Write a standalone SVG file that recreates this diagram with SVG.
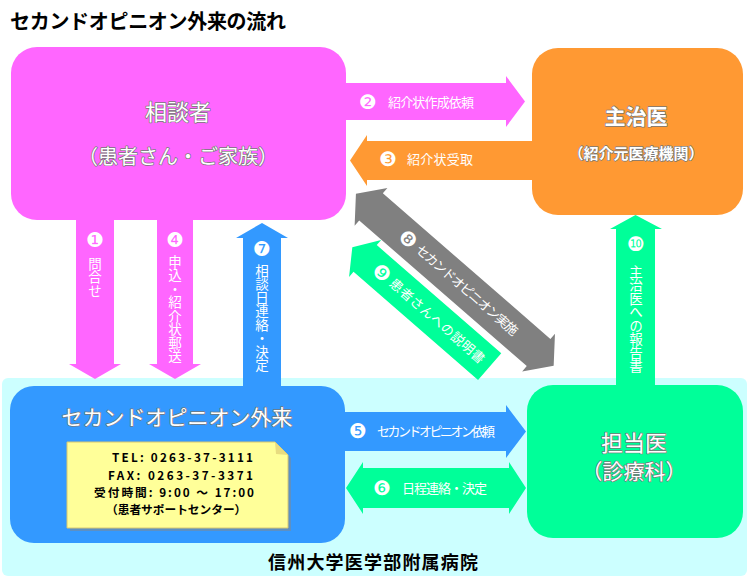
<svg xmlns="http://www.w3.org/2000/svg" width="749" height="579" viewBox="0 0 749 579">
<style>
.jp{font-family:"Noto Sans CJK JP","Noto Sans",sans-serif}
.num{font-family:"DejaVu Sans",sans-serif;fill:#fff;font-size:20px;text-anchor:middle}
.lbl{font-family:"Noto Sans CJK JP",sans-serif;fill:#fff;font-size:13px}
.vlbl{font-family:"Noto Sans CJK JP",sans-serif;fill:#fff;font-size:13.5px;writing-mode:vertical-rl}
.box{font-family:"Noto Sans CJK JP",sans-serif;fill:#fff;text-anchor:middle;stroke:#777;stroke-width:1.4px;paint-order:stroke;stroke-linejoin:round}
.note{font-family:"Noto Sans CJK JP",sans-serif;font-weight:bold;fill:#000;font-size:11.7px}
</style>
<text class="jp" x="10" y="29" font-size="20" font-weight="bold" fill="#000" textLength="276">セカンドオピニオン外来の流れ</text>
<rect id="hospital" x="2" y="378" width="745" height="198" rx="6" fill="#CCFFFF"/>
<g id="connectors">
  <path d="M340,83 H506 V76 L525,101.5 L506,127 V120 H340 Z" fill="#FF66FF"/>
  <path d="M537,141 H367 V135 L350,160.5 L367,186 V180 H537 Z" fill="#FF9933"/>
  <path d="M76,215 V364 H69 L95,379 L121,364 H114 V215 Z" fill="#FF66FF"/>
  <path d="M157,215 V364 H149 L175,379 L201,364 H193 V215 Z" fill="#FF66FF"/>
  <path d="M243,395 V238 H236 L262,223 L288,238 H281 V395 Z" fill="#3399FF"/>
  <path d="M616,390 V229 H610 L635.5,215 L662,229 H655 V390 Z" fill="#00FF99"/>
  <path d="M340,412 H506 V405 L526,431.5 L506,458 V451 H340 Z" fill="#3399FF"/>
  <path d="M363,468 H509 V462 L526,488 L509,514 V508 H363 V514 L346,488 L363,462 Z" fill="#00FF99"/>
  <g transform="translate(454.8,279.7) rotate(41)">
    <path d="M-131,0 L-111,-25 L-111,-18 L111,-18 L111,-25 L131,0 L111,25 L111,18 L-111,18 L-111,25 Z" fill="#808080"/>
    <text class="num" x="-62" y="7">❽</text>
    <text class="lbl" x="-49" y="4.5" font-size="13.5" textLength="130">セカンドオピニオン実施</text>
    <g transform="translate(-7.6,42.8)">
      <path d="M-91,0 L-74,-24.5 L-74,-17.7 L91,-17.7 L91,17.7 L-74,17.7 L-74,24.5 Z" fill="#00FF99"/>
      <text class="num" x="-52" y="7">❾</text>
      <text class="lbl" x="-39" y="4.5" font-size="13.5" textLength="121">患者さんへの説明書</text>
    </g>
  </g>
  <text class="num" x="368" y="109">❷</text>
  <text class="lbl" x="388" y="107" textLength="86">紹介状作成依頼</text>
  <text class="num" x="388" y="166">❸</text>
  <text class="lbl" x="407" y="164" textLength="66">紹介状受取</text>
  <text class="num" x="95" y="247">❶</text>
  <text class="vlbl" x="95" y="257">問合せ</text>
  <text class="num" x="175" y="247">❹</text>
  <text class="vlbl" x="175" y="255">申込・紹介状郵送</text>
  <text class="num" x="262" y="256">❼</text>
  <text class="vlbl" x="262" y="264">相談日連絡・決定</text>
  <text class="num" x="636" y="251">❿</text>
  <text class="vlbl" x="636" y="265">主治医への報告書</text>
  <text class="num" x="358" y="438">❺</text>
  <text class="lbl" x="377" y="436" textLength="118">セカンドオピニオン依頼</text>
  <text class="num" x="382" y="495">❻</text>
  <text class="lbl" x="402" y="493" textLength="85">日程連絡・決定</text>
</g>
<g id="soudansha">
  <rect x="11" y="47" width="335" height="173" rx="26" fill="#FF66FF"/>
  <text class="box" x="178" y="120" font-size="22">相談者</text>
  <text class="box" x="178" y="164" font-size="20">（患者さん・ご家族）</text>
</g>
<g id="shujii">
  <rect x="532" y="48" width="211" height="167" rx="26" fill="#FF9933"/>
  <text class="box" x="636" y="124" font-size="21" font-weight="bold">主治医</text>
  <text class="box" x="636" y="159" font-size="15" font-weight="bold">（紹介元医療機関）</text>
</g>
<g id="gairai">
  <rect x="10" y="386" width="335" height="157" rx="24" fill="#3399FF"/>
  <text class="box" x="177" y="425" font-size="21">セカンドオピニオン外来</text>
  <path d="M70,445 H278 L291,458 V531 H70 Z" fill="#888" opacity="0.5"/>
  <path d="M67,442 H275 L288,455 V528 H67 Z" fill="#FFFF99" stroke="#D8C870" stroke-width="1"/>
  <path d="M275,442 L276,454 L288,455 Z" fill="#E8DC80"/>
  <text class="note" x="112" y="462" font-size="12.5" textLength="141">TEL:  0263-37-3111</text>
  <text class="note" x="108" y="480" font-size="12.5" textLength="145">FAX:  0263-37-3371</text>
  <text class="note" x="94" y="497" textLength="160">受付時間: 9:00 ～ 17:00</text>
  <text class="note" x="106" y="514" font-size="11.5">（患者サポートセンター）</text>
</g>
<g id="tantoui">
  <rect x="527" y="385" width="216" height="153" rx="26" fill="#00FF99"/>
  <text class="box" x="634" y="451" font-size="22">担当医</text>
  <text class="box" x="634" y="479" font-size="21">（診療科）</text>
</g>
<text class="jp" x="373" y="569" font-size="18" font-weight="bold" fill="#000" text-anchor="middle" textLength="210">信州大学医学部附属病院</text>
</svg>
